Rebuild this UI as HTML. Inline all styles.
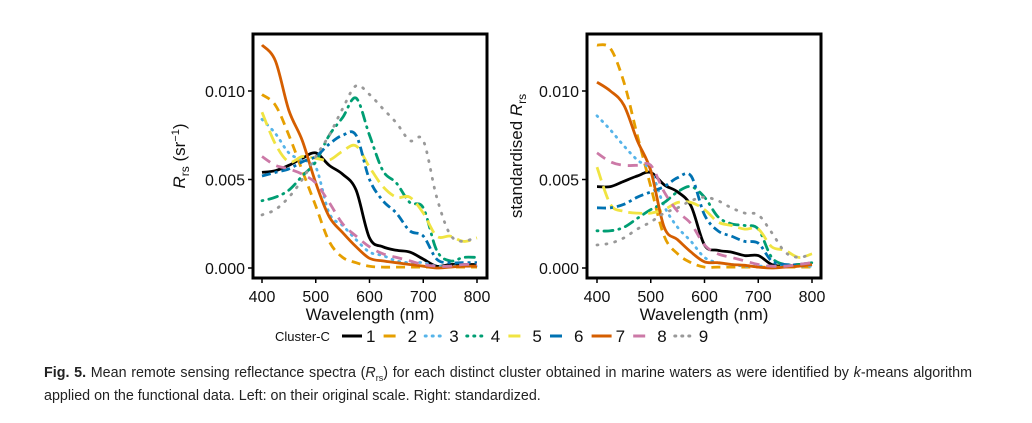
<!DOCTYPE html>
<html><head><meta charset="utf-8">
<style>
body{margin:0;background:#fff;width:1032px;height:423px;overflow:hidden;font-family:"Liberation Sans",sans-serif}
.cap{position:absolute;left:44px;top:364px;width:928px;font-size:14.3px;line-height:18px;color:#222;text-align:justify;text-align-last:left}
</style></head><body>
<svg id="chart" width="1032" height="360" style="position:absolute;left:0;top:0" font-family="Liberation Sans, sans-serif"></svg>
<div class="cap"><b>Fig. 5.</b> Mean remote sensing reflectance spectra (<i>R</i><sub style="font-size:9px">rs</sub>) for each distinct cluster obtained in marine waters as were identified by <i>k</i>-means algorithm applied on the functional data. Left: on their original scale. Right: standardized.</div>
<script>
const wavelengths=[400,425,450,475,500,525,550,575,600,625,650,675,700,725,750,775,800];
const clusters=["1","2","3","4","5","6","7","8","9"];
const leftS1=[5.4,5.5,5.8,6.2,6.5,5.8,5.3,4.4,1.7,1.2,1.0,0.9,0.5,0.1,0.2,0.2,0.2];
const leftS2=[9.8,9.2,7.5,5.5,3.5,1.5,0.6,0.3,0.1,0.05,0.05,0.05,0.05,0.05,0.05,0.05,0.05];
const leftS3=[8.4,7.6,6.5,6.1,5.7,3.1,2.4,1.6,0.9,0.7,0.4,0.3,0.3,0.1,0.1,0.1,0.1];
const leftS4=[3.8,4.0,4.4,5.2,6.0,7.5,8.5,9.6,7.5,5.5,4.8,3.7,3.4,1.0,0.4,0.6,0.6];
const leftS5=[8.8,7.0,6.0,6.3,6.2,6.1,6.6,6.9,5.7,4.6,4.0,4.0,3.1,1.8,1.8,1.5,1.7];
const leftS6=[5.2,5.4,5.6,6.0,6.3,7.0,7.5,7.5,5.0,3.8,3.1,2.1,1.8,0.5,0.3,0.3,0.3];
const leftS7=[12.6,11.7,8.9,7.2,4.8,2.9,2.0,1.2,0.55,0.4,0.3,0.2,0.1,0.0,0.05,0.1,0.1];
const leftS8=[6.3,5.8,5.6,5.3,4.8,3.7,2.5,1.8,1.2,0.8,0.6,0.4,0.2,0.1,0.1,0.2,0.2];
const leftS9=[3.0,3.3,4.0,5.0,6.3,7.5,9.0,10.3,9.8,9.0,8.2,7.2,7.2,4.0,1.9,1.5,1.8];
const rightS1=[4.6,4.6,4.9,5.2,5.4,4.7,4.3,3.5,1.3,1.0,0.9,0.7,0.7,0.2,0.1,0.2,0.2];
const rightS2=[12.6,12.4,10.5,7.5,4.6,1.8,0.8,0.3,0.05,0.05,0.05,0.05,0.05,0.05,0.05,0.05,0.05];
const rightS3=[8.6,7.8,6.9,6.1,5.5,3.5,2.3,1.5,0.6,0.3,0.2,0.1,0.1,0.1,0.1,0.1,0.1];
const rightS4=[2.1,2.1,2.3,2.8,3.3,3.7,4.3,4.6,4.0,2.9,2.5,2.4,2.2,0.6,0.2,0.2,0.3];
const rightS5=[5.7,3.6,3.2,3.1,3.1,3.3,3.7,3.7,3.3,2.6,2.4,2.2,2.2,1.2,1.0,0.6,0.8];
const rightS6=[3.4,3.4,3.6,4.0,4.3,4.6,5.1,5.2,3.0,2.1,1.8,1.5,1.4,0.4,0.2,0.2,0.3];
const rightS7=[10.5,10.0,9.2,7.2,5.5,2.3,1.6,0.9,0.35,0.3,0.2,0.15,0.05,0.0,0.05,0.1,0.2];
const rightS8=[6.5,6.0,5.8,5.8,5.8,4.3,3.2,2.5,1.3,0.8,0.6,0.4,0.2,0.1,0.1,0.2,0.3];
const rightS9=[1.3,1.4,1.7,2.2,2.6,3.1,3.4,3.8,4.0,3.8,3.4,3.1,3.0,2.0,0.9,0.6,0.8];
const xTicks=[400,500,600,700,800];
const yTicks=[0,5,10];
const yTickLabels=["0.000","0.005","0.010"];

const colors=["#000000","#E69F00","#56B4E9","#009E73","#F0E442","#0072B2","#D55E00","#CC79A7","#999999"];
const dashes=["none","9,6","1,6","1,6,9,6","14,6","9,4,3,4","none","10,7","1,8"];
const NS="http://www.w3.org/2000/svg";
const svg=document.getElementById('chart');
function mk(tag,attrs,parent){const e=document.createElementNS(NS,tag);for(const k in attrs)e.setAttribute(k,attrs[k]);(parent||svg).appendChild(e);return e;}
function smooth(P){let d='M'+P[0][0].toFixed(1)+','+P[0][1].toFixed(1);
  for(let i=0;i<P.length-1;i++){const p0=P[Math.max(0,i-1)],p1=P[i],p2=P[i+1],p3=P[Math.min(P.length-1,i+2)];
    const c1=[p1[0]+(p2[0]-p0[0])/6,p1[1]+(p2[1]-p0[1])/6],c2=[p2[0]-(p3[0]-p1[0])/6,p2[1]-(p3[1]-p1[1])/6];
    d+=' C'+c1[0].toFixed(1)+','+c1[1].toFixed(1)+' '+c2[0].toFixed(1)+','+c2[1].toFixed(1)+' '+p2[0].toFixed(1)+','+p2[1].toFixed(1);}
  return d;}

function panel(name,fx0,fx1,xs,series,titleX,titleRight){
  const g=mk('g',{});
  
  
  const X=v=>xs+(v-400)*215/400;
  const Y=v=>268-v*17.7;
  series.forEach((s,i)=>{
    const P=wavelengths.map((w,j)=>[X(w),Y(s[j])]);
    const p=mk('path',{d:smooth(P),fill:'none',stroke:colors[i],'stroke-width':2.8,'stroke-linejoin':'round','stroke-linecap':dashes[i].startsWith('1,')?'round':'butt','stroke-dasharray':dashes[i]},g);
    
    
  });
  const fr=mk('rect',{x:fx0,y:34,width:fx1-fx0,height:244,fill:'none',stroke:'#000','stroke-width':3},g);
  
  
  xTicks.forEach(t=>{
    mk('line',{x1:X(t),x2:X(t),y1:278,y2:283,stroke:'#000','stroke-width':1.5},g);
    const tx=mk('text',{x:X(t),y:302,'text-anchor':'middle','font-size':16,fill:'#111'},g);
    tx.textContent=t;
    
    
  });
  yTicks.forEach((t,i)=>{
    mk('line',{x1:fx0-5,x2:fx0,y1:Y(t),y2:Y(t),stroke:'#000','stroke-width':1.5},g);
    const tx=mk('text',{x:fx0-8,y:Y(t)+6,'text-anchor':'end','font-size':16,fill:'#111'},g);
    tx.textContent=yTickLabels[i];
    
    
  });
  const xt=mk('text',{x:(fx0+fx1)/2,y:320,'text-anchor':'middle','font-size':17,fill:'#111'},g);
  xt.textContent='Wavelength (nm)';
  
  
  const yt=mk('text',{transform:'translate('+titleX+',156) rotate(-90)','text-anchor':'middle','font-size':17,fill:'#111'},g);
  yt.innerHTML=titleRight?'standardised <tspan font-style="italic">R</tspan><tspan font-size="12" dy="4">rs</tspan>':'<tspan font-style="italic">R</tspan><tspan font-size="12" dy="4">rs</tspan><tspan dy="-4"> (sr</tspan><tspan font-size="11" dy="-6">−1</tspan><tspan dy="6">)</tspan>';
  
  
}
panel('left-panel',253,487,262,[leftS1,leftS2,leftS3,leftS4,leftS5,leftS6,leftS7,leftS8,leftS9],185,false);
panel('right-panel',587,821,597,[rightS1,rightS2,rightS3,rightS4,rightS5,rightS6,rightS7,rightS8,rightS9],522,true);

const lg=mk('g',{});


const lt=mk('text',{x:275,y:341,'font-size':13,fill:'#111'},lg);
lt.textContent='Cluster-C';


clusters.forEach((c,i)=>{
  const x0=342+i*41.6;
  const e=mk('g',{},lg);
  
  
  mk('line',{x1:x0,x2:x0+20,y1:336,y2:336,stroke:colors[i],'stroke-width':3,'stroke-dasharray':dashes[i]==='none'?'none':(dashes[i].startsWith('1,')?'1,6':'12,8'),'stroke-linecap':dashes[i].startsWith('1,')?'round':'butt'},e);
  const t=mk('text',{x:x0+24,y:342,'font-size':17,fill:'#111'},e);
  t.textContent=c;
});
</script>
</body></html>
